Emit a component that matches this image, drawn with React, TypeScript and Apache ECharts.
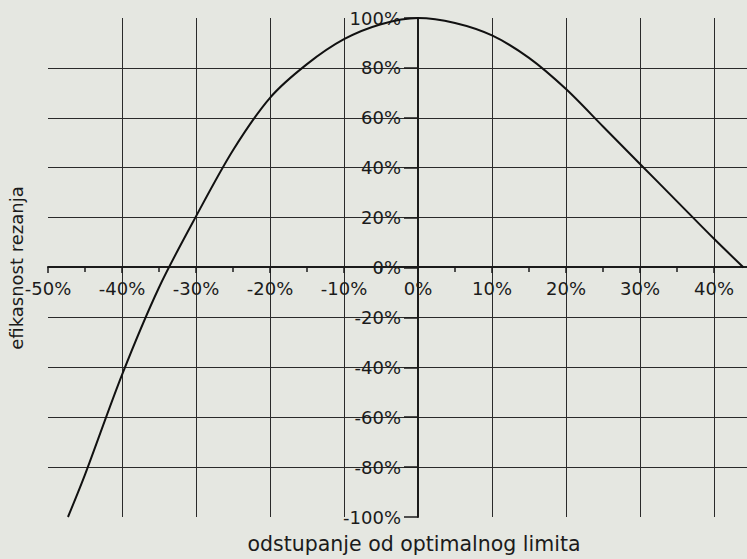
import React, { useEffect, useRef } from "react";
import * as echarts from "echarts";

const deviation = [-47.3, -45, -40, -35, -30, -25, -20, -15, -10, -5, 0, 5, 10, 15, 20, 25, 30, 35, 40, 44];
const efficiency = [-100, -83, -43, -8, 20.5, 47, 68, 81.5, 91.5, 97.5, 100, 98, 93, 84, 71.5, 56.5, 41.5, 26.5, 11.5, 0];
const xName = "odstupanje od optimalnog limita";
const yName = "efikasnost rezanja";

const INK = "#1b1b1b";
const FONT = "DejaVu Sans";

export default function App() {
  const ref = useRef<HTMLDivElement>(null);
  useEffect(() => {
    if (!ref.current) return;
    const chart = echarts.init(ref.current, null, { renderer: "svg" });
    const data = deviation.map((x, i) => [x, efficiency[i]]);
    chart.setOption({
      animation: false,
      backgroundColor: "#e5e7e1",
      grid: { left: 48, right: -41, top: 18, bottom: 42, containLabel: false, outerBoundsMode: "none" },
      xAxis: {
        type: "value",
        min: -50,
        max: 50,
        interval: 10,
        position: "bottom",
        offset: -250,
        axisLine: { onZero: false, lineStyle: { color: INK, width: 2 } },
        axisTick: { show: true, length: 6, lineStyle: { color: INK, width: 1.5 } },
        minorTick: { show: true, splitNumber: 2, length: 5, lineStyle: { color: INK, width: 1.5 } },
        axisLabel: {
          formatter: (v: number) => v + "%",
          fontSize: 18,
          fontFamily: FONT,
          color: INK,
          margin: 12,
          showMaxLabel: false,
        },
        splitLine: { show: true, showMinLine: false, showMaxLine: false, lineStyle: { color: "#2a2a2a", width: 1 } },
      },
      yAxis: {
        type: "value",
        min: -100,
        max: 100,
        interval: 20,
        position: "left",
        offset: -370,
        axisLine: { onZero: false, lineStyle: { color: INK, width: 2 } },
        axisTick: { show: true, length: 14, lineStyle: { color: INK, width: 1.5 } },
        axisLabel: {
          formatter: (v: number) => v + "%",
          fontSize: 18,
          fontFamily: FONT,
          color: INK,
          margin: 17,
        },
        splitLine: { show: true, showMinLine: false, showMaxLine: false, lineStyle: { color: "#2a2a2a", width: 1 } },
      },
      graphic: [
        {
          type: "text",
          x: 16,
          y: 268,
          rotation: Math.PI / 2,
          style: { text: yName, fontSize: 18, fontFamily: FONT, fill: INK, align: "center", verticalAlign: "middle" },
        },
        {
          type: "text",
          x: 414,
          y: 544,
          style: { text: xName, fontSize: 20.5, fontFamily: FONT, fill: INK, align: "center", verticalAlign: "middle" },
        },
      ],
      series: [
        {
          type: "line",
          data,
          smooth: 0.3,
          showSymbol: false,
          lineStyle: { color: "#111", width: 2 },
        },
      ],
    });
    return () => chart.dispose();
  }, []);
  return (
    <div
      ref={ref}
      style={{ position: "fixed", left: 0, top: 0, width: 747, height: 559 }}
    />
  );
}
